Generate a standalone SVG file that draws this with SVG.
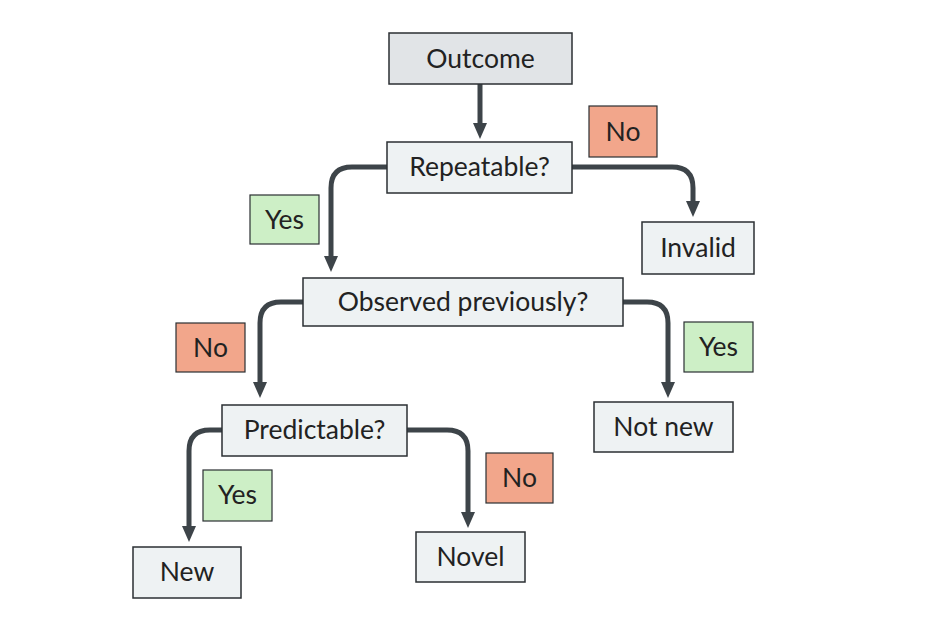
<svg xmlns="http://www.w3.org/2000/svg" width="929" height="619" viewBox="0 0 929 619">
<style>
.box{fill:#eef2f3;stroke:#2b2f33;stroke-width:1.5}
.top{fill:#e1e4e7;stroke:#2b2f33;stroke-width:1.5}
.yes{fill:#cdefc6;stroke:#2b2f33;stroke-width:1.2}
.no{fill:#f2a68b;stroke:#2b2f33;stroke-width:1.2}
text{font-family:Lato,"Open Sans",sans-serif;font-size:26.5px;fill:#222;text-anchor:middle;dominant-baseline:central}
.c{fill:none;stroke:#3d4449;stroke-width:5}
</style>
<defs>
<marker id="ah" viewBox="0 0 10 10" refX="2.5" refY="5" markerWidth="3.2" markerHeight="2.8" orient="auto" markerUnits="strokeWidth" preserveAspectRatio="none">
<path d="M0,0 L10,5 L0,10 z" fill="#3d4449"/>
</marker>
</defs>
<rect width="929" height="619" fill="#fff"/>
<g id="connectors">
<path class="c" d="M480,84 V127" marker-end="url(#ah)"/>
<path class="c" d="M387,167 H352 Q331,167 331,188 V260" marker-end="url(#ah)"/>
<path class="c" d="M572,167 H672 Q693,167 693,188 V205" marker-end="url(#ah)"/>
<path class="c" d="M303,302 H281 Q260,302 260,323 V386" marker-end="url(#ah)"/>
<path class="c" d="M623,302 H647 Q668,302 668,323 V386" marker-end="url(#ah)"/>
<path class="c" d="M222,430 H210 Q189,430 189,451 V530" marker-end="url(#ah)"/>
<path class="c" d="M407,430 H447 Q468,430 468,451 V516" marker-end="url(#ah)"/>
</g>
<g id="outcome"><rect class="top" x="389" y="33" width="183" height="51"/><text x="480.5" y="58">Outcome</text></g>
<g id="repeatable"><rect class="box" x="387" y="142" width="185" height="51"/><text x="479.5" y="166">Repeatable?</text></g>
<g id="lbl-no1"><rect class="no" x="589" y="106" width="68" height="51"/><text x="623" y="131">No</text></g>
<g id="lbl-yes1"><rect class="yes" x="250" y="195" width="69" height="49"/><text x="284.5" y="219">Yes</text></g>
<g id="invalid"><rect class="box" x="642" y="222" width="112" height="52"/><text x="698" y="247">Invalid</text></g>
<g id="observed"><rect class="box" x="303" y="278" width="320" height="48"/><text x="463" y="301">Observed previously?</text></g>
<g id="lbl-no2"><rect class="no" x="176" y="323" width="69" height="49"/><text x="210.5" y="347">No</text></g>
<g id="lbl-yes2"><rect class="yes" x="684" y="322" width="69" height="50"/><text x="718.5" y="346">Yes</text></g>
<g id="notnew"><rect class="box" x="594" y="402" width="139" height="50"/><text x="663.5" y="426">Not new</text></g>
<g id="predictable"><rect class="box" x="222" y="405" width="185" height="51"/><text x="314.5" y="429">Predictable?</text></g>
<g id="lbl-yes3"><rect class="yes" x="203" y="470" width="69" height="51"/><text x="237.5" y="494">Yes</text></g>
<g id="lbl-no3"><rect class="no" x="486" y="453" width="67" height="50"/><text x="519.5" y="477">No</text></g>
<g id="new"><rect class="box" x="133" y="547" width="108" height="51"/><text x="187" y="571">New</text></g>
<g id="novel"><rect class="box" x="416" y="532" width="109" height="50"/><text x="470.5" y="556">Novel</text></g>
</svg>
